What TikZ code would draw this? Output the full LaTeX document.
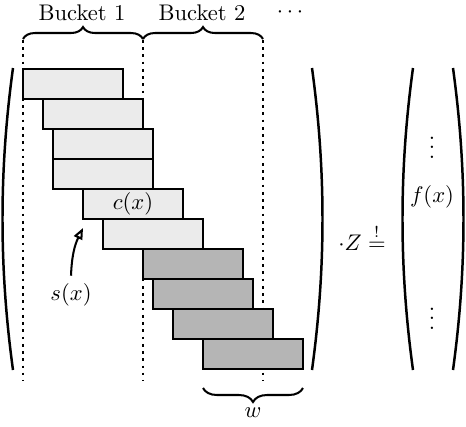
\documentclass[tikz,border=0pt]{standalone}
\usetikzlibrary{arrows.meta,decorations.pathreplacing}
\begin{document}
\begin{tikzpicture}[x=0.01555cm,y=-0.01555cm,
  lightbox/.style={draw,line width=0.9pt,fill=black!8,anchor=north west,inner sep=0pt,outer sep=0pt,minimum width=1.555cm,minimum height=0.4665cm},
  darkbox/.style={lightbox,fill=black!29},
  guide/.style={dotted,line width=1.2pt},
  paren/.style={line width=1.1pt},
  bucketbrace/.style={decorate,decoration={brace,amplitude=5.3pt},line width=0.9pt}]
\useasboundingbox (0,0) rectangle (466,426);
% bucket borders
\draw[guide] (23,40) -- (23,380);
\draw[guide] (143,40) -- (143,380);
\draw[guide] (263,40) -- (263,380);
\draw[bucketbrace] (23,39) -- (143,39);
\draw[bucketbrace] (143,39) -- (263,39);
\node (bucketa) at (82,13) {Bucket 1};
\node (bucketb) at (202,13) {Bucket 2};
\node[inner sep=0pt] (more) at (290,12) {$\cdots$};
% rows of the matrix
\node[lightbox] (b1) at (23,69) {};
\node[lightbox] (b2) at (43,99) {};
\node[lightbox] (b3) at (53,129) {};
\node[lightbox] (b4) at (53,159) {};
\node[lightbox] (b5) at (83,189) {$c(x)$};
\node[lightbox] (b6) at (103,219) {};
\node[darkbox] (b7) at (143,249) {};
\node[darkbox] (b8) at (153,279) {};
\node[darkbox] (b9) at (173,309) {};
\node[darkbox] (b10) at (203,339) {};
\node (sx) at (71,295) {$s(x)$};
\coordinate (sxtip) at (83,228);
\draw[-{Triangle[open,length=5pt,width=4pt]},line width=0.9pt] (sx.north) to[bend left=12] (sxtip);
\draw[decorate,decoration={brace,amplitude=6.2pt},line width=0.9pt] (303,388) -- (203,388);
\node (w) at (253,413) {$w$};
% parentheses
\draw[paren] (13,68) .. controls (-1,170) and (-1,268) .. (13,370);
\draw[paren] (312,68) .. controls (326,170) and (326,268) .. (312,370);
\draw[paren] (413,68) .. controls (399,170) and (399,268) .. (413,370);
\draw[paren] (453,68) .. controls (467,170) and (467,268) .. (453,370);
\node (scale) at (362,237) {$\cdot Z \stackrel{!}{=}$};
\node[inner sep=0pt] (vdotsa) at (432,141) {$\vdots$};
\node (fx) at (432,197) {$f(x)$};
\node[inner sep=0pt] (vdotsb) at (432,312) {$\vdots$};
\end{tikzpicture}
\end{document}
